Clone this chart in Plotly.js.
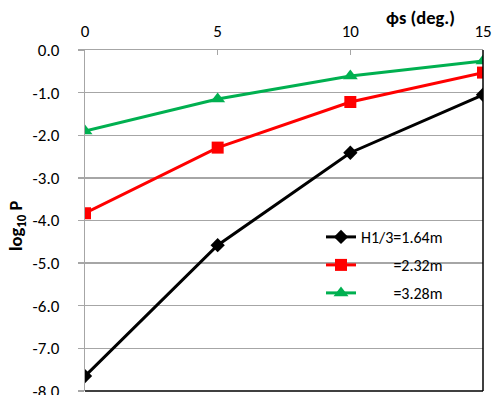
<!DOCTYPE html>
<html>
<head>
<meta charset="utf-8">
<script src="https://cdn.plot.ly/plotly-3.0.1.min.js"></script>
<style>html,body{margin:0;padding:0;background:#fff;}#chart{width:492px;height:395px;}</style>
</head>
<body>
<div id="chart"></div>
<script>
const phi = [0, 5, 10, 15];
const h164 = [-7.65, -4.58, -2.41, -1.05];
const h232 = [-3.83, -2.29, -1.22, -0.53];
const h328 = [-1.90, -1.15, -0.61, -0.26];
const seriesNames = ["H1/3=1.64m", "=2.32m", "=3.28m"];
const xTickVals = [0, 5, 10, 15];
const xTickText = ["0", "5", "10", "15"];
const yTickVals = [0, -1, -2, -3, -4, -5, -6, -7, -8];
const yTickText = ["0.0", "-1.0", "-2.0", "-3.0", "-4.0", "-5.0", "-6.0", "-7.0", "-8.0"];

const FONT = "Carlito, Lato, 'Liberation Sans', sans-serif";
const hidden = '<span style="color:rgba(0,0,0,0)">H1/3</span>';

const traces = [
  {x: phi, y: h164, name: seriesNames[0], mode: "lines+markers", legend: "legend",
   line: {color: "#000000", width: 3}, marker: {symbol: "diamond", size: 11, color: "#000000"}},
  {x: phi, y: h232, name: hidden + seriesNames[1], mode: "lines+markers", legend: "legend2",
   line: {color: "#FF0000", width: 3}, marker: {symbol: "square", size: 12, color: "#FF0000"}},
  {x: phi, y: h328, name: hidden + seriesNames[2], mode: "lines+markers", legend: "legend3",
   line: {color: "#00B050", width: 3}, marker: {symbol: "triangle-up", size: 13, color: "#00B050"}}
];

const L = 85, R = 483, T = 50, B = 391;
const px = (pix) => (pix - L) / (R - L);
const py = (pix) => (B - pix) / (B - T);
const legBase = {x: px(321), xanchor: "left", yanchor: "middle", bgcolor: "rgba(0,0,0,0)",
  borderwidth: 0, font: {family: FONT, size: 16, color: "#000"}};

const layout = {
  width: 492, height: 395,
  margin: {l: L, r: 492 - R, t: T, b: 395 - B, autoexpand: false},
  paper_bgcolor: "#ffffff", plot_bgcolor: "#ffffff",
  font: {family: FONT, size: 17, color: "#000"},
  showlegend: true,
  legend: Object.assign({}, legBase, {y: py(237)}),
  legend2: Object.assign({}, legBase, {y: py(265)}),
  legend3: Object.assign({}, legBase, {y: py(293)}),
  xaxis: {
    range: [0, 15], side: "top", tickvals: xTickVals, ticktext: xTickText,
    showgrid: false, zeroline: false, showline: true, linecolor: "#a6a6a6", linewidth: 1.3,
    ticks: "inside", ticklen: 5, tickcolor: "#a6a6a6", tickwidth: 1.3,
    ticklabelstandoff: 5, ticklabeloverflow: "allow",
    tickfont: {family: FONT, size: 17, color: "#000"}, fixedrange: true
  },
  yaxis: {
    range: [-8, 0], tickvals: yTickVals, ticktext: yTickText,
    showgrid: true, gridcolor: "#a6a6a6", gridwidth: 1.3, zeroline: false,
    showline: true, linecolor: "#a6a6a6", linewidth: 1.3,
    ticks: "outside", ticklen: 6, tickcolor: "#a6a6a6", tickwidth: 1.3,
    ticklabelstandoff: 15, ticklabeloverflow: "allow",
    tickfont: {family: FONT, size: 17, color: "#000"}, fixedrange: true
  },
  shapes: [
    {type: "line", xref: "paper", yref: "paper", x0: 1, x1: 1, y0: 0, y1: 1, line: {color: "#000", width: 1.5}},
    {type: "line", xref: "paper", yref: "paper", x0: 0, x1: 1, y0: 0, y1: 0, line: {color: "#000", width: 1.5}}
  ],
  annotations: [
    {text: "<b>ϕs (deg.)</b>", xref: "paper", yref: "paper", x: px(420), y: py(17),
     showarrow: false, xanchor: "center", yanchor: "middle", font: {family: FONT, size: 18.5, color: "#000"}},
    {text: "<b>log<sub>10</sub> P</b>", xref: "paper", yref: "paper", x: px(16), y: py(226),
     showarrow: false, xanchor: "center", yanchor: "middle", textangle: -90,
     font: {family: FONT, size: 18.5, color: "#000"}}
  ]
};

Plotly.newPlot("chart", traces, layout, {displayModeBar: false, staticPlot: true});
</script>
</body>
</html>
